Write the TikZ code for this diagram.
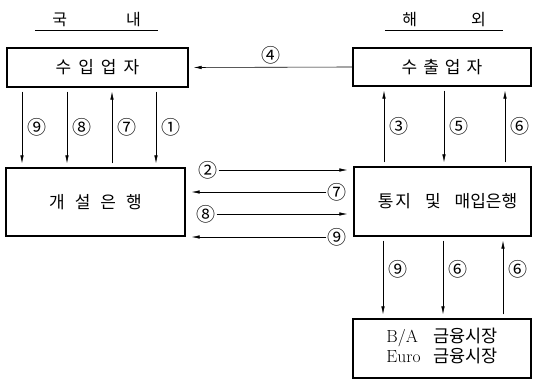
\documentclass[tikz,border=0pt]{standalone}
\usepackage{fontspec}
\newfontfamily\kr{Noto Sans CJK KR}
\usetikzlibrary{positioning, arrows.meta, calc}

\tikzset{
    box/.style={draw, line width=1.3pt, inner sep=0pt, font=\kr\fontsize{17}{20}\selectfont},
    head/.style={anchor=south, inner xsep=0pt, inner ysep=3.5pt, font=\kr\fontsize{16}{18}\selectfont},
    arr/.style={draw, -{Latex[length=8pt,width=3.5pt]}, line width=0.6pt, shorten <=4pt, shorten >=4pt},
    num/.style={inner sep=1pt, font=\kr\fontsize{19}{19}\selectfont},
}

\begin{document}
\begin{tikzpicture}[x=1pt, y=-1pt]
    \useasboundingbox (0,0) rectangle (533,391);

    % headings
    \node[head, minimum width=123pt] (dom) at (96.5,30) {국\hspace{59pt}내};
    \node[head, minimum width=118pt] (ovs) at (444,30) {해\hspace{54pt}외\hspace{8pt}};
    \draw[line width=0.8pt] (dom.south west) -- (dom.south east);
    \draw[line width=0.8pt] (ovs.south west) -- (ovs.south east);

    % boxes
    \node[box, minimum width=181pt, minimum height=39pt] (imp) at (97.5,67.5) {수\hspace{7pt}입\hspace{7pt}업\hspace{7pt}자};
    \node[box, minimum width=178pt, minimum height=38pt] (exp) at (442,67) {수\hspace{6pt}출\hspace{6pt}업\hspace{6pt}자};
    \node[box, minimum width=179pt, minimum height=68pt] (obank) at (95.5,202) {개\hspace{10pt}설\hspace{10pt}은\hspace{10pt}행\hspace{9pt}};
    \node[box, minimum width=177pt, minimum height=69pt] (abank) at (442.5,201.5) {\hspace{10pt}통\hspace{2pt}지\hspace{14pt}및\hspace{14pt}매입은행};
    \node[box, minimum width=178pt, minimum height=59pt, font=\fontsize{17.5}{20}\selectfont] (mkt) at (442,348.5)
        {\begin{tabular}{@{}l@{\hspace{12.5pt}}l@{}}
            B/A & {\kr 금융시장}\\
            Euro & {\kr 금융시장}
        \end{tabular}};

    % vertical flows
    \path
        (exp.west) edge[arr, shorten <=0pt, shorten >=5pt] node[num, above=2pt] {④} (imp.east)
        (22,0 |- imp.south) edge[arr] node[num, right=4pt] {⑨} (22,0 |- obank.north)
        (67,0 |- imp.south) edge[arr] node[num, right=4pt] {⑧} (67,0 |- obank.north)
        (112,0 |- obank.north) edge[arr] node[num, right=4pt] {⑦} (112,0 |- imp.south)
        (156,0 |- imp.south) edge[arr] node[num, right=4pt] {①} (156,0 |- obank.north)
        (384,0 |- abank.north) edge[arr] node[num, right=4pt] {③} (384,0 |- exp.south)
        (444,0 |- exp.south) edge[arr] node[num, right=4pt] {⑤} (444,0 |- abank.north)
        (505,0 |- abank.north) edge[arr] node[num, right=4pt] {⑥} (505,0 |- exp.south)
        (383,0 |- abank.south) edge[arr] node[num, right=4pt, pos=0.4] {⑨} (383,0 |- mkt.north)
        (443,0 |- abank.south) edge[arr] node[num, right=4pt, pos=0.4] {⑥} (443,0 |- mkt.north)
        (503,0 |- mkt.north) edge[arr] node[num, right=4pt, pos=0.6] {⑥} (503,0 |- abank.south)
        ;

    % bank to bank
    \node[num] (l2) at (208,170) {②};
    \node[num] (l7) at (337,192) {⑦};
    \node[num] (l8) at (206,214) {⑧};
    \node[num] (l9) at (337,237) {⑨};
    \path[every edge/.style={arr, shorten <=0pt, shorten >=6pt}]
        (l2) edge (l2 -| abank.west)
        (l7) edge (l7 -| obank.east)
        (l8) edge (l8 -| abank.west)
        (l9) edge (l9 -| obank.east)
        ;
\end{tikzpicture}
\end{document}
